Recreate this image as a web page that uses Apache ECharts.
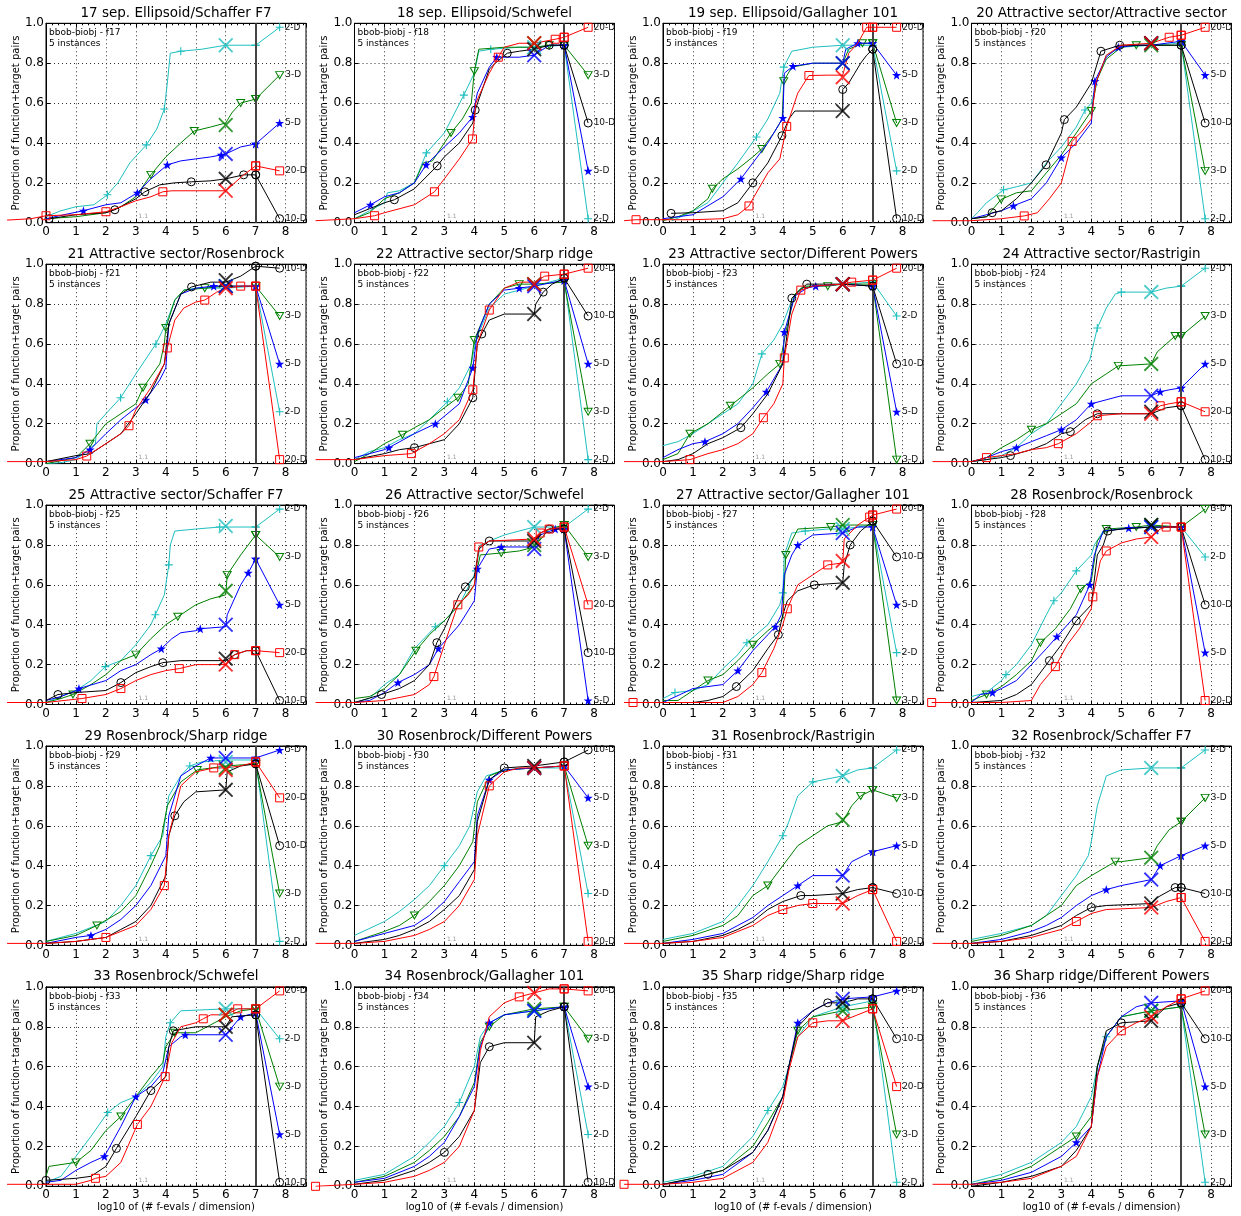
<!DOCTYPE html>
<html>
<head>
<meta charset="utf-8">
<script src="https://cdn.jsdelivr.net/npm/echarts@6/dist/echarts.min.js"></script>
<style>
  html, body { margin: 0; background: #fff; }
  #chart { width: 1241px; height: 1216px; }
</style>
</head>
<body>
<div id="chart"></div>
<script>
// panel titles and function ids
const titles = [
  '17 sep. Ellipsoid/Schaffer F7', '18 sep. Ellipsoid/Schwefel', '19 sep. Ellipsoid/Gallagher 101', '20 Attractive sector/Attractive sector',
  '21 Attractive sector/Rosenbrock', '22 Attractive sector/Sharp ridge', '23 Attractive sector/Different Powers', '24 Attractive sector/Rastrigin',
  '25 Attractive sector/Schaffer F7', '26 Attractive sector/Schwefel', '27 Attractive sector/Gallagher 101', '28 Rosenbrock/Rosenbrock',
  '29 Rosenbrock/Sharp ridge', '30 Rosenbrock/Different Powers', '31 Rosenbrock/Rastrigin', '32 Rosenbrock/Schaffer F7',
  '33 Rosenbrock/Schwefel', '34 Rosenbrock/Gallagher 101', '35 Sharp ridge/Sharp ridge', '36 Sharp ridge/Different Powers'
];
const fids = ['f17','f18','f19','f20','f21','f22','f23','f24','f25','f26','f27','f28','f29','f30','f31','f32','f33','f34','f35','f36'];
const dimLabels = ['2-D', '3-D', '5-D', '10-D', '20-D'];
const dimColors = ['#1fbfbf', '#008000', '#0000ff', '#000000', '#ff0000'];
const xTicks = [0, 1, 2, 3, 4, 5, 6, 7, 8];
const yTicks = [0, 0.2, 0.4, 0.6, 0.8, 1.0];

// y value of each dimension at x = 6 (big cross), order 2,3,5,10,20-D
const sixVals = [
  [0.89, 0.49, 0.345, 0.22, 0.16], [0.88, 0.9, 0.84, 0.87, 0.9], [0.89, 0.8, 0.8, 0.56, 0.73], [0.9, 0.89, 0.9, 0.9, 0.9],
  [0.89, 0.89, 0.89, 0.92, 0.88], [0.9, 0.9, 0.89, 0.75, 0.9], [0.9, 0.9, 0.9, 0.9, 0.9], [0.86, 0.5, 0.34, 0.26, 0.25],
  [0.895, 0.57, 0.4, 0.23, 0.2], [0.89, 0.8, 0.78, 0.82, 0.83], [0.88, 0.9, 0.86, 0.61, 0.72], [0.89, 0.9, 0.89, 0.9, 0.84],
  [0.92, 0.89, 0.94, 0.78, 0.88], [0.89, 0.89, 0.89, 0.9, 0.89], [0.85, 0.63, 0.35, 0.26, 0.21], [0.89, 0.44, 0.33, 0.21, 0.19],
  [0.89, 0.86, 0.76, 0.8, 0.86], [0.88, 0.89, 0.88, 0.72, 0.97], [0.9, 0.88, 0.94, 0.92, 0.83], [0.88, 0.88, 0.92, 0.83, 0.85]
];
// label end points at x = 7.8
const endVals = [
  [0.98, 0.74, 0.5, 0.02, 0.26], [0.02, 0.74, 0.26, 0.5, 0.98], [0.26, 0.5, 0.74, 0.02, 0.98], [0.02, 0.26, 0.74, 0.5, 0.98],
  [0.26, 0.74, 0.5, 0.98, 0.02], [0.02, 0.26, 0.5, 0.74, 0.98], [0.74, 0.02, 0.26, 0.5, 0.98], [0.98, 0.74, 0.5, 0.02, 0.26],
  [0.98, 0.74, 0.5, 0.02, 0.26], [0.98, 0.74, 0.02, 0.26, 0.5], [0.26, 0.02, 0.5, 0.74, 0.98], [0.74, 0.98, 0.26, 0.5, 0.02],
  [0.02, 0.26, 0.98, 0.5, 0.74], [0.26, 0.5, 0.74, 0.98, 0.02], [0.98, 0.74, 0.5, 0.26, 0.02], [0.98, 0.74, 0.5, 0.26, 0.02],
  [0.74, 0.5, 0.26, 0.02, 0.98], [0.26, 0.74, 0.5, 0.02, 0.98], [0.02, 0.26, 0.98, 0.74, 0.5], [0.02, 0.26, 0.5, 0.74, 0.98]
];

// ECDF curves per panel: [2-D, 3-D, 5-D, 10-D, 20-D], points [x, y, marker?]
const f17 = [
  [[0,0.03],[0.5,0.06],[1,0.08],[1.6,0.09],[2.05,0.14,1],[2.4,0.2],[2.8,0.3],[3.35,0.39,1],[3.7,0.47],[3.95,0.57,1],[4.05,0.7],[4.15,0.85],[4.5,0.86,1],[5.2,0.87],[5.8,0.885],[6,0.89],[7,0.89,1]],
  [[0,0.02],[1,0.03],[2,0.05],[2.5,0.08],[3,0.13],[3.5,0.24,1],[4,0.33],[4.5,0.4],[4.95,0.46,1],[5.5,0.48],[6,0.5],[6.2,0.55],[6.5,0.6,1],[7,0.62,1]],
  [[0,0.02],[0.6,0.04],[1.25,0.06,1],[2,0.09],[2.5,0.1],[3.05,0.15,1],[3.5,0.22],[4.05,0.29,1],[4.5,0.31],[5,0.32],[5.5,0.33],[5.85,0.34,1],[6,0.345],[6.5,0.38],[7,0.395,1]],
  [[0.1,0.02,1],[1,0.04],[2,0.05],[2.3,0.065,1],[3,0.12],[3.3,0.155,1],[3.8,0.19],[4.3,0.2],[4.85,0.205,1],[5.5,0.21],[6,0.22],[6.6,0.24,1],[7,0.24,1]],
  [[-1.3,0.013],[-0.5,0.02],[0,0.035,1],[1,0.04],[2,0.055,1],[2.5,0.08],[3,0.11],[3.5,0.13],[3.9,0.155,1],[4.2,0.16],[5,0.16],[6,0.16],[6.3,0.2],[6.6,0.24],[7,0.285,1]]
];
const f18 = [
  [[0,0.02],[0.5,0.06],[1,0.1],[1.1,0.15],[1.5,0.16],[2,0.2],[2.4,0.35,1],[3,0.45],[3.65,0.64,1],[4,0.75],[4.15,0.86],[4.55,0.87,1],[5.5,0.88],[6,0.88],[7,0.89,1]],
  [[0,0.02],[0.5,0.05],[1,0.12],[1.5,0.15],[2,0.2],[2.3,0.3],[2.6,0.31],[3,0.4],[3.22,0.45,1],[3.6,0.52],[3.9,0.6],[4,0.76,1],[4.15,0.87],[5,0.88],[6,0.88],[6.5,0.89,1],[7,0.89,1]],
  [[0,0.05],[0.53,0.09,1],[1,0.13],[1.5,0.15],[2,0.2],[2.39,0.29,1],[3,0.38],[3.5,0.45],[3.94,0.53,1],[4.1,0.65],[4.5,0.78],[4.75,0.83,1],[5.5,0.83],[6,0.84],[6.5,0.89],[7,0.89,1]],
  [[0,0.04],[0.5,0.07],[1,0.1],[1.33,0.115,1],[2,0.17],[2.76,0.285,1],[3,0.33],[3.5,0.4],[3.95,0.5],[4.03,0.565,1],[4.5,0.77],[4.7,0.8],[5.1,0.85,1],[5.5,0.86],[6,0.87],[6.5,0.89,1],[7,0.89,1]],
  [[-1.3,0.01],[0,0.02],[0.67,0.035,1],[1,0.05],[2,0.09],[2.67,0.155,1],[3,0.22],[3.5,0.32],[3.94,0.42,1],[4.05,0.6],[4.5,0.75],[4.8,0.83,1],[5,0.88],[5.5,0.9],[6,0.9],[6.7,0.92,1],[7,0.93,1]]
];
const f19 = [
  [[0.3,0.01],[0.9,0.05],[1.5,0.1],[2,0.2],[2.5,0.3],[3.12,0.43,1],[3.5,0.52],[3.9,0.65],[4.03,0.78,1],[4.3,0.86],[5,0.88],[6,0.89],[6.5,0.89],[7,0.89,1]],
  [[0,0.01],[0.5,0.03],[1,0.06],[1.5,0.12],[1.65,0.17,1],[2,0.22],[2.5,0.27],[3,0.33],[3.3,0.37,1],[3.7,0.45],[3.98,0.52],[4.03,0.71,1],[4.3,0.78],[5,0.8],[6,0.8],[6.2,0.87],[6.66,0.9,1],[7,0.9,1]],
  [[0,0.02],[1,0.04],[2,0.13],[2.6,0.22,1],[3,0.3],[3.5,0.4],[4,0.525,1],[4.05,0.75],[4.34,0.785,1],[5,0.8],[6,0.8],[6.1,0.87],[6.5,0.9,1],[7,0.9,1]],
  [[0.27,0.047,1],[1,0.05],[2,0.06],[2.5,0.1],[3,0.2,1],[3.5,0.3],[3.97,0.436,1],[4.2,0.52],[4.4,0.56],[5,0.56],[6,0.56],[6,0.668,1],[6.2,0.7],[6.4,0.75],[6.6,0.8],[6.8,0.84],[7,0.87,1]],
  [[-1.3,0.01],[-0.9,0.015,1],[0,0.015],[1,0.015],[2,0.02],[2.5,0.04],[2.87,0.084,1],[3,0.12],[3.5,0.25],[3.9,0.32],[4.13,0.483,1],[4.5,0.65],[4.87,0.738,1],[5.5,0.74],[6,0.74],[6.2,0.85],[6.5,0.9],[6.8,0.98,1],[7,0.98,1]]
];
const f20 = [
  [[0,0.02],[0.2,0.05],[0.5,0.1],[1.07,0.165,1],[1.5,0.18],[2,0.2],[2.5,0.3],[3,0.38],[3.5,0.48],[3.79,0.565,1],[4,0.6],[4.2,0.72],[4.5,0.84],[5,0.88],[6,0.89],[7,0.9,1]],
  [[0,0.02],[0.5,0.03],[0.99,0.117,1],[1.5,0.15],[2,0.16],[2.5,0.25],[3,0.34],[3.5,0.45],[4,0.56,1],[4.2,0.72],[4.5,0.82],[5,0.88],[5.5,0.89,1],[6,0.89],[7,0.89,1]],
  [[0,0.02],[1,0.06],[1.4,0.085,1],[2,0.12],[2.5,0.2],[3,0.326,1],[3.5,0.4],[4,0.5],[4.12,0.71,1],[4.5,0.83],[4.9,0.88,1],[5.5,0.89],[6,0.89],[7,0.91,1]],
  [[0,0.02],[0.5,0.03],[0.69,0.05,1],[1,0.06],[1.5,0.12],[2,0.2],[2.49,0.29,1],[3,0.45],[3.1,0.517,1],[3.5,0.58],[4,0.7],[4.32,0.86,1],[4.95,0.89,1],[6,0.89],[7,0.89,1]],
  [[-1.3,0.01],[0,0.01],[1,0.02],[1.76,0.034,1],[2.2,0.05],[2.6,0.12],[3,0.2],[3.36,0.408,1],[3.7,0.46],[4,0.52],[4.15,0.7],[4.5,0.84],[5,0.89],[6,0.9],[6.6,0.93,1],[7,0.94,1]]
];
const f21 = [
  [[0,0],[0.5,0.005],[1,0.02],[1.5,0.08],[1.65,0.1],[1.7,0.2],[2,0.25],[2.49,0.33,1],[3,0.45],[3.67,0.6,1],[4,0.7],[4.3,0.82],[4.6,0.87],[5,0.88],[6,0.88],[7,0.89,1]],
  [[0,0],[1,0.03],[1.47,0.1,1],[2,0.2],[2.5,0.25],[3,0.3],[3.24,0.38,1],[3.8,0.5],[3.95,0.6],[4,0.68,1],[4.3,0.82],[4.6,0.87],[5.3,0.88,1],[6,0.89],[7,0.89,1]],
  [[0,0.01],[1,0.03],[1.47,0.07,1],[2,0.15],[2.5,0.22],[3,0.28],[3.33,0.32,1],[3.8,0.42],[4,0.48],[4.1,0.7],[4.5,0.85],[5,0.88],[5.6,0.89,1],[6,0.89],[7,0.89,1]],
  [[0,0.01],[1,0.04],[1.5,0.05],[2,0.1],[2.5,0.15],[3,0.25],[3.5,0.36],[3.95,0.5],[4.1,0.7],[4.5,0.85],[4.86,0.886,1],[5.5,0.91],[6,0.91],[6.5,0.94],[7,0.99,1]],
  [[-1.3,0.01],[0,0.01],[1,0.02],[1.36,0.038,1],[2,0.1],[2.5,0.15],[2.77,0.19,1],[3,0.27],[3.5,0.38],[3.95,0.5],[4.05,0.58,1],[4.3,0.72],[4.6,0.78],[5,0.81],[5.3,0.82,1],[5.7,0.86],[6,0.88],[6.5,0.89,1],[7,0.89,1]]
];
const f22 = [
  [[0,0.02],[0.5,0.06],[1,0.08],[1.5,0.12],[2,0.15],[2.5,0.22],[3.1,0.31,1],[3.5,0.38],[3.9,0.5],[4.05,0.62],[4.5,0.78],[5,0.85],[6,0.89],[7,0.93,1]],
  [[0,0.01],[0.5,0.05],[1,0.1],[1.6,0.145,1],[2,0.18],[2.5,0.22],[3,0.28],[3.45,0.33,1],[3.8,0.4],[4,0.62,1],[4.5,0.8],[5,0.88],[5.5,0.9,1],[6,0.9],[7,0.91,1]],
  [[0,0.03],[1,0.07],[1.15,0.08,1],[2,0.15],[2.7,0.2,1],[3.5,0.3],[3.95,0.48,1],[4.1,0.65],[4.5,0.8],[5,0.87],[5.5,0.88,1],[6,0.89],[7,0.92,1]],
  [[0,0.02],[1,0.05],[1.5,0.07],[2,0.08,1],[2.5,0.1],[3,0.12],[3.5,0.2],[3.95,0.33,1],[4.1,0.6],[4.25,0.65,1],[4.5,0.72],[5,0.75],[6,0.75],[6.05,0.8],[6.3,0.86,1],[6.6,0.9],[7,0.93,1]],
  [[-1.3,0.02],[0,0.02],[1,0.04],[1.9,0.05,1],[2.5,0.1],[3,0.15],[3.5,0.22],[3.95,0.37,1],[4.1,0.6],[4.5,0.77,1],[5,0.88],[5.5,0.91],[6,0.91],[6.35,0.94,1],[7,0.95,1]]
];
const f23 = [
  [[0,0.09],[0.5,0.11],[1,0.15],[1.5,0.2],[2,0.25],[2.5,0.3],[3,0.4],[3.3,0.55,1],[3.7,0.62],[4,0.7],[4.3,0.82],[4.6,0.88],[5,0.89],[6,0.9],[7,0.91,1]],
  [[0,0.02],[0.5,0.05],[0.9,0.15,1],[1.5,0.2],[2,0.26],[2.25,0.29,1],[3,0.38],[3.5,0.45],[3.9,0.5,1],[4.1,0.66],[4.4,0.85],[4.7,0.89],[5.5,0.89,1],[6,0.9],[7,0.9,1]],
  [[0,0.03],[0.5,0.07],[1,0.1],[1.4,0.11,1],[2,0.15],[2.5,0.2],[3,0.28],[3.45,0.36,1],[3.8,0.45],[4,0.5],[4.05,0.66,1],[4.4,0.84],[4.8,0.88],[5.1,0.89,1],[6,0.9],[7,0.89,1]],
  [[0,0.01],[0.5,0.02],[1,0.05],[1.5,0.1],[2,0.13],[2.6,0.18,1],[3,0.25],[3.5,0.35],[4,0.5],[4.1,0.6],[4.3,0.83,1],[4.8,0.9,1],[6,0.9],[7,0.89,1]],
  [[-1.3,0.01],[0,0.01],[0.9,0.02,1],[1.5,0.05],[2,0.07],[2.5,0.1],[3,0.15],[3.35,0.23,1],[3.7,0.3],[4,0.4],[4.05,0.53,1],[4.3,0.75],[4.6,0.87,1],[5,0.89],[6,0.9],[6.3,0.91,1],[7,0.92,1]]
];
const f24 = [
  [[0,0.01],[0.5,0.02],[1,0.04],[1.5,0.08],[2,0.15],[2.5,0.2],[3,0.3],[3.5,0.4],[3.95,0.52],[4.2,0.68,1],[4.5,0.78],[4.8,0.85],[5,0.86,1],[6,0.86],[6.5,0.88],[7,0.89,1]],
  [[0,0.01],[0.5,0.03],[1,0.08],[1.5,0.12],[2,0.17,1],[2.5,0.2],[3,0.25],[3.5,0.3],[4,0.4],[4.5,0.45],[4.9,0.49,1],[6,0.5],[6.2,0.56],[6.5,0.6],[6.8,0.64,1],[7,0.64,1]],
  [[0,0.01],[0.5,0.03],[1,0.06],[1.5,0.08,1],[2,0.11],[2.5,0.14],[3,0.17,1],[3.5,0.22],[4,0.3,1],[4.5,0.32],[5,0.34],[6,0.34],[6.3,0.36,1],[6.6,0.37],[7,0.38,1]],
  [[0,0.01],[0.5,0.02],[1,0.03],[1.3,0.04,1],[2,0.07],[2.5,0.1],[3,0.15],[3.3,0.16,1],[3.8,0.22],[4.2,0.25,1],[5,0.25],[6,0.25],[6.5,0.28],[7,0.29,1]],
  [[-1.3,0.01],[0,0.01],[0.5,0.03,1],[1,0.04],[1.5,0.05],[2,0.07],[2.5,0.08],[2.9,0.1,1],[3.5,0.15],[4,0.21],[4.2,0.24,1],[5,0.25],[6,0.25],[6.3,0.29,1],[6.6,0.3],[7,0.31,1]]
];
const f25 = [
  [[0,0.01],[0.5,0.04],[1,0.07],[1.5,0.12],[1.98,0.19,1],[2.5,0.22],[3,0.3],[3.5,0.4],[3.65,0.45,1],[3.95,0.55],[4.1,0.7,1],[4.15,0.8],[4.3,0.87],[5,0.88],[5.8,0.89,1],[6,0.89],[7,0.89,1]],
  [[0,0.01],[0.5,0.03],[0.9,0.05,1],[1.5,0.1],[2,0.15],[2.5,0.22],[3,0.25,1],[3.5,0.33],[4,0.4],[4.4,0.44,1],[5,0.5],[5.5,0.53],[6,0.55],[6.05,0.65,1],[6.5,0.75],[7,0.85,1]],
  [[0,0.02],[0.5,0.04],[1,0.07],[1.1,0.08,1],[2,0.12],[2.5,0.17],[3,0.2],[3.5,0.25],[3.85,0.28,1],[4.2,0.33],[4.5,0.36],[5,0.37],[5.15,0.38,1],[6,0.39],[6.05,0.45],[6.5,0.6],[6.75,0.66,1],[7,0.73,1]],
  [[0,0.02],[0.4,0.05,1],[1,0.06],[2,0.07],[2.5,0.11,1],[3,0.16],[3.5,0.19],[3.9,0.21,1],[4.5,0.22],[6,0.22],[6.3,0.25,1],[6.7,0.27],[7,0.27,1]],
  [[-1.3,0.01],[0,0.01],[1.2,0.03,1],[2,0.05],[2.5,0.08,1],[3,0.12],[3.5,0.15],[4,0.17],[4.45,0.18,1],[5,0.2],[6,0.2],[6.1,0.22],[6.3,0.25,1],[6.7,0.27],[7,0.27,1]]
];
const f26 = [
  [[0,0.01],[0.5,0.03],[1,0.1],[1.5,0.15],[2,0.28],[2.7,0.39,1],[3,0.42],[3.5,0.5],[4,0.65],[4.05,0.67,1],[4.2,0.8],[4.5,0.82],[5,0.85],[5.5,0.87],[6,0.89],[7,0.89,1]],
  [[0,0.03],[0.5,0.04],[1,0.08],[1.5,0.15],[2.05,0.27,1],[2.5,0.35],[3,0.42],[3.5,0.5],[4,0.6],[4.1,0.68],[4.2,0.75],[4.9,0.76,1],[5.5,0.77],[6,0.79],[6.5,0.88],[7,0.9,1]],
  [[0,0.01],[0.5,0.02],[1,0.06],[1.45,0.11,1],[2,0.15],[2.5,0.2],[2.8,0.28,1],[3.5,0.4],[4,0.52],[4.1,0.68,1],[4.5,0.78],[4.9,0.79,1],[6,0.79],[6.2,0.85],[6.7,0.88,1],[7,0.88,1]],
  [[0,0.01],[0.9,0.05,1],[1.5,0.08],[2,0.12],[2.5,0.2],[2.75,0.31,1],[3,0.38],[3.5,0.55],[3.7,0.59,1],[4,0.64],[4.15,0.78],[4.5,0.82,1],[6,0.82],[6.2,0.86],[6.5,0.88,1],[7,0.88,1]],
  [[-1.3,0.01],[0,0.01],[1,0.02],[2,0.05],[2.5,0.1],[2.65,0.14,1],[3,0.3],[3.45,0.5,1],[3.8,0.55],[4,0.6],[4.15,0.79,1],[4.5,0.82],[6,0.83],[6.2,0.86,1],[6.5,0.88,1],[7,0.89,1]]
];
const f27 = [
  [[0,0.03],[0.4,0.06,1],[1,0.07],[1.5,0.1],[2,0.18],[2.5,0.25],[2.8,0.31,1],[3.5,0.4],[3.9,0.5],[4,0.56,1],[4.05,0.75],[4.3,0.86],[4.75,0.87,1],[5.5,0.88],[6,0.88],[6.5,0.89],[7,0.9,1]],
  [[0,0.02],[0.5,0.02],[1,0.07],[1.5,0.12,1],[2,0.15],[2.5,0.22],[3,0.3,1],[3.5,0.37],[4,0.43],[4.1,0.75,1],[4.3,0.82],[4.5,0.88],[5.6,0.89,1],[6,0.9],[7,0.9,1]],
  [[0,0.01],[1,0.08],[1.5,0.09],[2,0.1],[2.5,0.17,1],[3,0.27],[3.5,0.35],[3.75,0.39,1],[3.95,0.45],[4.05,0.65],[4.3,0.75],[4.5,0.8,1],[5,0.85],[6,0.86],[6.5,0.89],[7,0.89,1]],
  [[0,0.01],[1,0.01],[1.5,0.02],[2,0.04],[2.45,0.09,1],[3,0.17],[3.5,0.28],[3.85,0.35,1],[4,0.45],[4.15,0.52],[4.5,0.57],[5.05,0.6,1],[6,0.61],[6.05,0.7],[6.25,0.8,1],[6.6,0.87],[7,0.92,1]],
  [[-1.3,0.01],[-1,0.01,1],[0,0.01],[2,0.01],[2.5,0.04],[3,0.1],[3.3,0.16,1],[3.7,0.28],[4,0.4],[4.15,0.48,1],[4.5,0.6],[5,0.65],[5.5,0.7,1],[6,0.71],[6.05,0.83],[6.5,0.9],[6.9,0.94,1],[7,0.95,1]]
];
const f28 = [
  [[0,0.04],[0.5,0.06],[1,0.12],[1.15,0.15,1],[1.5,0.2],[2,0.3],[2.5,0.45],[2.75,0.52,1],[3,0.56],[3.5,0.67,1],[4,0.75],[4.1,0.8],[4.4,0.87],[5,0.88],[6,0.89],[7,0.89,1]],
  [[0,0.02],[0.5,0.05,1],[1,0.09],[1.5,0.15],[2,0.22],[2.3,0.31,1],[2.8,0.38],[3.3,0.48],[3.65,0.58,1],[4,0.62],[4.2,0.82],[4.5,0.88,1],[5.5,0.89,1],[6,0.9],[7,0.89,1]],
  [[0,0.01],[0.3,0.05],[0.7,0.06,1],[1,0.08],[1.5,0.12],[2,0.2],[2.5,0.28],[2.85,0.34,1],[3.5,0.45],[3.95,0.6,1],[4.1,0.75],[4.4,0.87],[5.25,0.885,1],[6,0.89],[7,0.89,1]],
  [[0,0.01],[1,0.02],[1.5,0.05],[2,0.1],[2.6,0.22,1],[3,0.3],[3.5,0.42,1],[4,0.5],[4.2,0.75],[4.4,0.8],[4.55,0.87,1],[5,0.88],[6,0.89],[7,0.89,1]],
  [[-1.33,0.01,1],[0,0.01],[1,0.01],[2,0.02],[2.3,0.1],[2.8,0.19,1],[3.2,0.3],[3.6,0.38],[4,0.48],[4.05,0.54,1],[4.3,0.72],[4.5,0.77,1],[5,0.81],[5.5,0.83],[6,0.84],[6.3,0.88],[6.5,0.89,1],[7,0.89,1]]
];
const f29 = [
  [[0,0.02],[1,0.06],[2,0.12],[2.5,0.2],[3,0.3],[3.5,0.45,1],[3.9,0.55],[4.1,0.75],[4.5,0.85],[4.8,0.9,1],[5.2,0.92],[6,0.93],[7,0.93,1]],
  [[0,0.02],[1,0.05],[1.7,0.1,1],[2.5,0.17],[3,0.25],[3.5,0.4],[3.8,0.5],[4.05,0.7],[4.5,0.82],[5.05,0.88,1],[6,0.9],[7,0.91,1]],
  [[0,0.01],[1,0.04],[1.5,0.05,1],[2,0.08],[2.5,0.13],[3,0.2],[3.5,0.3],[4,0.45],[4.1,0.65],[4.5,0.85],[5,0.9],[5.5,0.94,1],[6,0.94],[7,0.94,1]],
  [[0,0.01],[1,0.02],[2,0.04],[2.5,0.08],[3,0.12],[3.5,0.2],[4,0.35],[4.1,0.55],[4.3,0.65,1],[4.6,0.72],[5,0.77],[6,0.78],[6.05,0.87],[6.5,0.9],[7,0.91,1]],
  [[-1.3,0.01],[0,0.01],[1,0.02],[2,0.04,1],[2.5,0.07],[3,0.1],[3.5,0.18],[3.95,0.3,1],[4.1,0.55],[4.5,0.8],[5,0.87],[5.6,0.89,1],[6,0.89],[6.5,0.9],[7,0.92,1]]
];
const f30 = [
  [[0,0.05],[1,0.12],[1.5,0.17],[2,0.23],[2.5,0.3],[3,0.4,1],[3.5,0.5],[3.85,0.6],[4.1,0.77],[4.4,0.85],[5,0.88],[6,0.89],[7,0.89,1]],
  [[0,0.02],[1,0.07],[1.5,0.1],[2,0.15,1],[2.5,0.22],[3,0.3],[3.5,0.4],[3.95,0.52],[4.1,0.72],[4.5,0.85],[5,0.88],[6,0.89],[7,0.9,1]],
  [[0,0.02],[0.5,0.04],[1,0.06],[2,0.1],[2.5,0.15],[3,0.22],[3.5,0.32],[4,0.42],[4.1,0.65],[4.5,0.83,1],[5,0.88],[6,0.89],[7,0.9,1]],
  [[0,0.01],[1,0.03],[1.5,0.05],[2,0.08],[2.5,0.12],[3,0.18],[3.5,0.25],[4,0.38],[4.1,0.62],[4.5,0.83],[5,0.89,1],[6,0.9],[7,0.92,1]],
  [[-1.3,0.01],[0,0.01],[1,0.02],[2,0.05],[2.5,0.08],[3,0.12],[3.5,0.2],[4,0.33],[4.1,0.55],[4.5,0.8,1],[5,0.87],[5.5,0.89],[6,0.89],[7,0.9,1]]
];
const f31 = [
  [[0,0.03],[1,0.06],[2,0.12],[2.5,0.2],[3,0.3],[3.5,0.42],[4,0.55,1],[4.2,0.62],[4.5,0.75],[5,0.82,1],[6,0.85],[6.5,0.88],[7,0.89,1]],
  [[0,0.02],[1,0.05],[2,0.1],[2.5,0.15],[3,0.25],[3.5,0.3,1],[4,0.4],[4.5,0.5],[5,0.55],[5.5,0.6],[6,0.62],[6.3,0.7],[6.6,0.75,1],[7,0.78,1]],
  [[0,0.01],[1,0.03],[2,0.06],[2.5,0.1],[3,0.14],[3.5,0.2],[4,0.25],[4.5,0.3,1],[5,0.35],[6,0.35],[6.3,0.42],[6.7,0.45],[7,0.47,1]],
  [[0,0.01],[1,0.02],[2,0.05],[2.5,0.08],[3,0.12],[3.5,0.18],[4,0.22],[4.6,0.25,1],[5,0.25],[6,0.26],[6.5,0.28],[7,0.29,1]],
  [[-1.3,0.01],[0,0.01],[1,0.02],[2,0.04],[2.5,0.07],[3,0.1],[3.5,0.15],[4,0.18,1],[4.5,0.2],[5,0.21,1],[6,0.21],[6.5,0.25],[7,0.28,1]]
];
const f32 = [
  [[0,0.03],[1,0.06],[2,0.1],[2.5,0.15],[3,0.25],[3.5,0.35],[3.9,0.45],[4,0.52],[4.2,0.7],[4.5,0.85],[5,0.88],[6,0.89],[7,0.89,1]],
  [[0,0.02],[1,0.05],[2,0.1],[2.5,0.15],[3,0.2],[3.5,0.3],[4,0.35],[4.8,0.42,1],[5,0.42],[6,0.44],[6.2,0.5],[6.6,0.58],[7,0.62,1]],
  [[0,0.01],[1,0.03],[2,0.07],[2.5,0.1],[3,0.14],[3.5,0.2],[4,0.25],[4.5,0.28,1],[5,0.3],[6,0.33],[6.3,0.4,1],[7,0.45,1]],
  [[0,0.01],[1,0.02],[2,0.05],[3,0.1],[3.5,0.15],[4,0.19,1],[4.5,0.2],[6,0.21],[6.2,0.24],[6.8,0.29,1],[7,0.29,1]],
  [[-1.3,0.01],[0,0.01],[1,0.02],[2,0.04],[3,0.08],[3.5,0.12,1],[4,0.16],[4.5,0.18],[6,0.19],[6.5,0.22],[7,0.24,1]]
];
const f33 = [
  [[0,0.02],[0.5,0.05],[1,0.15],[1.5,0.25],[2.06,0.37,1],[2.5,0.42],[3,0.45],[3.5,0.52],[3.9,0.6],[4,0.75],[4.15,0.82,1],[4.5,0.88],[6,0.89],[7,0.89,1]],
  [[0,0.05],[0.1,0.1],[1,0.12,1],[1.5,0.18],[2,0.28],[2.5,0.35,1],[3,0.45],[3.5,0.55],[3.9,0.62],[4,0.7],[4.3,0.77,1],[5,0.77],[6,0.85],[6.5,0.88],[7,0.89,1]],
  [[0,0.02],[0.5,0.03],[1,0.08],[1.5,0.12],[1.95,0.15,1],[2.5,0.3],[3,0.45,1],[3.5,0.5],[3.9,0.57],[4.1,0.7],[4.5,0.75],[4.65,0.76,1],[6,0.76],[6.5,0.85,1],[7,0.87,1]],
  [[0,0.03,1],[1,0.04],[1.5,0.05],[2,0.1],[2.35,0.19,1],[3,0.35],[3.5,0.48,1],[4,0.55],[4.1,0.7],[4.25,0.78,1],[5,0.8],[6,0.8],[6.2,0.85],[7,0.86,1]],
  [[-1.3,0.01],[0,0.01],[1,0.01],[1.5,0.03],[1.65,0.04,1],[2,0.05],[2.5,0.12],[3.05,0.31,1],[3.5,0.4],[3.98,0.55,1],[4.2,0.72],[4.5,0.8],[5,0.82],[5.25,0.84,1],[5.5,0.86],[6,0.86],[6.4,0.89,1],[7,0.89,1]]
];
const f34 = [
  [[0,0.03],[1,0.06],[2,0.15],[2.5,0.22],[3,0.3],[3.5,0.42,1],[4,0.6],[4.2,0.75],[4.5,0.82],[5,0.86],[6,0.88],[7,0.9,1]],
  [[0,0.02],[1,0.05],[2,0.12],[2.5,0.18],[3,0.25],[3.5,0.35],[4,0.52],[4.2,0.72],[4.5,0.8,1],[5,0.86],[6,0.89],[7,0.9,1]],
  [[0,0.02],[1,0.04],[2,0.1],[2.5,0.15],[3,0.22],[3.5,0.35],[4,0.5],[4.2,0.7],[4.5,0.82,1],[5,0.86],[6,0.88],[7,0.9,1]],
  [[0,0.01],[1,0.03],[2,0.08],[2.5,0.12],[3,0.17,1],[3.5,0.25],[4,0.38],[4.2,0.62],[4.5,0.7,1],[5,0.72],[6,0.72],[6.05,0.85],[6.5,0.88],[7,0.9,1]],
  [[-1.3,0,1],[0,0.01],[1,0.02],[2,0.05],[2.5,0.08],[3,0.12],[3.5,0.2],[4,0.38],[4.2,0.68],[4.5,0.85],[5,0.92],[5.5,0.95,1],[6,0.97],[6.5,0.99],[7,0.99,1]]
];
const f35 = [
  [[0,0.02],[1,0.05],[2,0.1],[3,0.25],[3.5,0.38,1],[4,0.5],[4.2,0.6],[4.5,0.75],[5,0.85],[6,0.9],[7,0.93,1]],
  [[0,0.01],[1,0.04],[2,0.08],[3,0.2],[3.5,0.32],[4,0.45],[4.2,0.6],[4.5,0.78,1],[5,0.85],[6,0.88],[7,0.9,1]],
  [[0,0.01],[1,0.03],[2,0.06],[3,0.17],[3.5,0.28],[4,0.45],[4.2,0.6],[4.5,0.82,1],[5,0.88],[5.5,0.92],[6,0.94],[7,0.95,1]],
  [[0,0.01],[1,0.04],[1.5,0.06,1],[2,0.08],[3,0.17],[3.5,0.28],[4,0.45],[4.2,0.6],[4.5,0.8],[5,0.88],[5.5,0.92,1],[6,0.92],[6.5,0.94],[7,0.94,1]],
  [[-1.3,0.01,1],[0,0.01],[1,0.02],[2,0.04],[3,0.12],[3.5,0.22],[4,0.42],[4.2,0.58],[4.5,0.75],[5,0.82,1],[5.5,0.83],[6,0.83],[6.5,0.86],[7,0.89,1]]
];
const f36 = [
  [[0,0.02],[1,0.06],[2,0.12],[3,0.22],[3.5,0.3],[4,0.45],[4.2,0.6],[4.5,0.75,1],[5,0.85],[6,0.88],[7,0.9,1]],
  [[0,0.01],[1,0.04],[2,0.1],[3,0.2],[3.5,0.25,1],[4,0.35],[4.2,0.6],[4.5,0.75],[5,0.85],[6,0.88],[7,0.9,1]],
  [[0,0.01],[1,0.03],[2,0.07],[3,0.15],[3.5,0.22,1],[4,0.3],[4.2,0.55],[4.5,0.75],[5,0.85],[5.5,0.9],[6,0.92],[7,0.93,1]],
  [[0,0],[1,0.02],[2,0.05],[3,0.1],[3.5,0.18],[4,0.3],[4.2,0.6],[4.5,0.78],[5,0.82,1],[6,0.83],[6.5,0.9],[7,0.92,1]],
  [[-1.3,0.01],[0,0.01],[1,0.02],[2,0.04],[3,0.1],[3.5,0.15],[4,0.3],[4.2,0.55],[4.5,0.7],[5,0.78,1],[5.5,0.82],[6,0.85],[6.5,0.9],[7,0.94,1]]
];
const curves = [f17, f18, f19, f20, f21, f22, f23, f24, f25, f26, f27, f28, f29, f30, f31, f32, f33, f34, f35, f36];

// layout
const colLeft = [46, 354.5, 663, 971.5];
const gridW = 260, gridH = 199.4, rowTop0 = 23.3, rowStep = 240.9;
const xMax = 8.68, xLeftMin = -1.4;
const pxPerUnit = gridW / xMax;
const FONT = 'DejaVu Sans';
const N = curves.length;

const plusPath = 'path://M4.3,0H5.7V4.3H10V5.7H5.7V10H4.3V5.7H0V4.3H4.3Z';
const triPath = 'path://M0,0L10,0L5,9Z';
const starPath = 'path://M5,0L6.2,3.6L10,3.6L7,5.9L8.1,9.5L5,7.3L1.9,9.5L3,5.9L0,3.6L3.8,3.6Z';
const crossPath = 'path://M0,1.4L1.4,0L8,6.6L14.6,0L16,1.4L9.4,8L16,14.6L14.6,16L8,9.4L1.4,16L0,14.6L6.6,8Z';
const shapes = [plusPath, triPath, starPath, 'circle', 'rect'];
const hollow = [false, true, false, true, true];
const symSizes = [8, [8, 7], 9, 8, 8];

const chart = echarts.init(document.getElementById('chart'), null, {renderer: 'canvas'});
const grid = [], xAxis = [], yAxis = [], series = [], graphic = [];

// main panels: grids 0..N-1, bottom x axes 0..N-1, y axes 0..N-1
curves.forEach((panel, p) => {
  const r = Math.floor(p / 4), c = p % 4;
  const left = colLeft[c], top = rowTop0 + rowStep * r;
  grid.push({left: left, top: top, width: gridW, height: gridH, show: true,
    borderColor: '#000', borderWidth: 1, backgroundColor: 'transparent'});
  xAxis.push({
    type: 'value', gridIndex: p, min: xTicks[0], max: xMax, interval: 1, position: 'bottom',
    axisLine: {show: true, lineStyle: {color: '#000', width: 1}},
    axisTick: {show: true, inside: true, length: 4, lineStyle: {color: '#000'}},
    minorTick: {show: true, splitNumber: 5, length: 2, lineStyle: {color: '#000'}},
    axisLabel: {show: true, color: '#000', fontSize: 12, fontFamily: FONT, margin: 3, showMaxLabel: false},
    splitLine: {show: true, lineStyle: {color: '#333', type: [1, 3], width: 1}}
  });
  yAxis.push({
    type: 'value', gridIndex: p, min: 0, max: 1, interval: yTicks[1],
    name: 'Proportion of function+target pairs', nameLocation: 'middle', nameGap: 22,
    nameTextStyle: {fontSize: 10, fontFamily: FONT, color: '#000'},
    axisLine: {show: true, lineStyle: {color: '#000'}},
    axisTick: {show: true, inside: true, length: 4, lineStyle: {color: '#000'}},
    axisLabel: {color: '#000', fontSize: 12, fontFamily: FONT, margin: 2, formatter: v => v.toFixed(1)},
    splitLine: {show: true, lineStyle: {color: '#333', type: [1, 3], width: 1}}
  });

  panel.forEach((pts, d) => {
    const col = dimColors[d];
    const style = {color: hollow[d] ? 'rgba(0,0,0,0)' : col, borderColor: col, borderWidth: hollow[d] ? 1 : 0};
    const last = pts[pts.length - 1];
    const curve = {
      type: 'line', xAxisIndex: p, yAxisIndex: p, data: pts, silent: true,
      symbol: v => (v[2] ? shapes[d] : 'none'), symbolSize: symSizes[d], showSymbol: true,
      lineStyle: {color: col, width: 1}, itemStyle: style, z: 2 + d
    };
    if (d === 0) {
      curve.markLine = {silent: true, symbol: 'none', label: {show: false},
        lineStyle: {color: '#444', width: 2, type: 'solid'}, data: [{xAxis: 7}]};
    }
    series.push(curve);
    series.push({
      type: 'line', xAxisIndex: p, yAxisIndex: p, silent: true,
      data: [{value: [last[0], last[1]]},
             {value: [7.8, endVals[p][d]], label: {show: true, position: 'right', distance: 1,
               formatter: dimLabels[d], fontSize: 9, fontFamily: FONT, color: '#111'}}],
      symbol: shapes[d], symbolSize: symSizes[d],
      lineStyle: {color: col, width: 1}, itemStyle: style, z: 2 + d
    });
    series.push({
      type: 'scatter', xAxisIndex: p, yAxisIndex: p, silent: true,
      data: [[6, sixVals[p][d]]], symbol: crossPath, symbolSize: 15,
      itemStyle: {color: col}, z: 10 + d
    });
  });

  graphic.push({type: 'text', x: left + gridW / 2, y: top - 10, silent: true,
    style: {text: titles[p], align: 'center', verticalAlign: 'middle', fontSize: 13.5, fontFamily: FONT, fill: '#000'}});
  graphic.push({type: 'text', x: left + 3, y: top + 4, silent: true,
    style: {text: 'bbob-biobj - ' + fids[p] + '\n5 instances', align: 'left', verticalAlign: 'top',
      fontSize: 9, lineHeight: 11, fontFamily: FONT, fill: '#000'}});
  graphic.push({type: 'text', x: left + 3.25 * pxPerUnit, y: top + gridH - 6, silent: true,
    style: {text: '1.1', align: 'center', verticalAlign: 'middle', fontSize: 6, fontFamily: FONT, fill: '#999'}});
  if (r === 4) {
    graphic.push({type: 'text', x: left + gridW / 2, y: top + gridH + 21, silent: true,
      style: {text: 'log10 of (# f-evals / dimension)', align: 'center', verticalAlign: 'middle',
        fontSize: 10, fontFamily: FONT, fill: '#000'}});
  }
});

// top spines with ticks: x axes N..2N-1
curves.forEach((panel, p) => {
  xAxis.push({
    type: 'value', gridIndex: p, min: 0, max: xMax, interval: 1, position: 'top',
    axisLine: {show: true, lineStyle: {color: '#000'}},
    axisTick: {show: true, inside: true, length: 4, lineStyle: {color: '#000'}},
    minorTick: {show: true, splitNumber: 5, length: 2, lineStyle: {color: '#000'}},
    axisLabel: {show: false}, splitLine: {show: false}
  });
});

// strips left of x = 0 where curves start below 0: grids N..2N-1, x axes 2N.., y axes N..
curves.forEach((panel, p) => {
  const r = Math.floor(p / 4), c = p % 4;
  const left = colLeft[c], top = rowTop0 + rowStep * r;
  const w = -xLeftMin * pxPerUnit;
  grid.push({left: left - w, top: top, width: w, height: gridH, show: false});
  xAxis.push({type: 'value', gridIndex: N + p, min: xLeftMin, max: 0, show: false});
  yAxis.push({type: 'value', gridIndex: N + p, min: 0, max: 1, show: false});
  panel.forEach((pts, d) => {
    if (pts[0][0] >= 0) return;
    const k = pts.findIndex(q => q[0] >= 0);
    const part = pts.slice(0, k + 1).map(q => (q[0] >= 0 ? [q[0], q[1]] : q));
    const col = dimColors[d];
    series.push({
      type: 'line', xAxisIndex: 2 * N + p, yAxisIndex: N + p, data: part, silent: true,
      symbol: v => (v[2] ? shapes[d] : 'none'), symbolSize: symSizes[d], showSymbol: true,
      lineStyle: {color: col, width: 1},
      itemStyle: {color: hollow[d] ? 'rgba(0,0,0,0)' : col, borderColor: col, borderWidth: hollow[d] ? 1 : 0},
      z: 2 + d
    });
  });
});

chart.setOption({
  backgroundColor: '#fff',
  animation: false,
  textStyle: {fontFamily: FONT},
  grid: grid, xAxis: xAxis, yAxis: yAxis, series: series, graphic: graphic
});
</script>
</body>
</html>
